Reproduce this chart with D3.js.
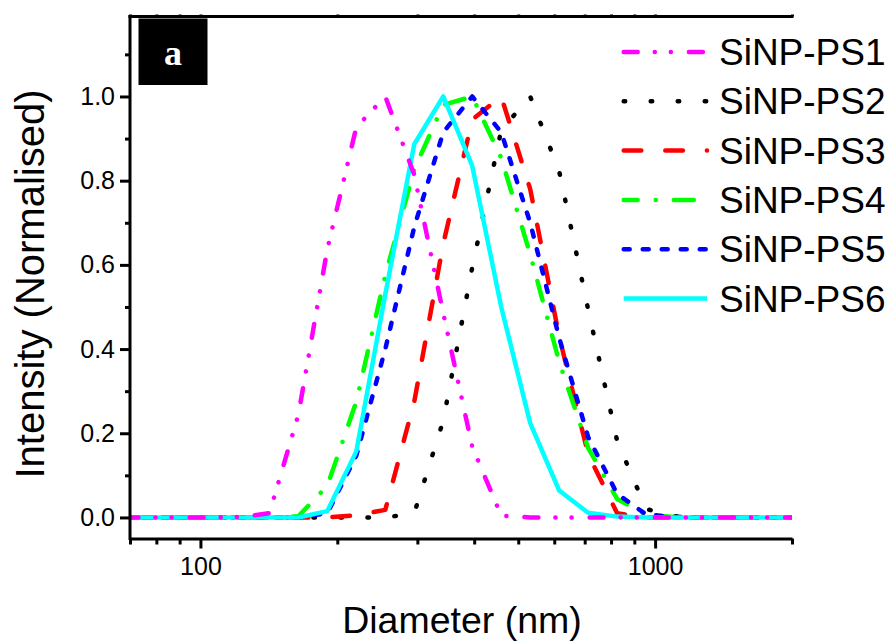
<!DOCTYPE html>
<html>
<head>
<meta charset="utf-8">
<script src="https://cdn.jsdelivr.net/npm/d3@7"></script>
<style>
  html, body { margin: 0; padding: 0; background: #fff; }
  svg { display: block; }
</style>
</head>
<body>
<div id="chart"></div>
<script>
// ---------------- data ----------------
const diameters = [68.06, 78.82, 91.28, 105.7, 122.4, 141.8, 164.2, 190.1, 220.2, 255.0, 295.3, 342.0, 396.1, 458.7, 531.2, 615.1, 712.4, 825.0, 955.4, 1106, 1281, 1484, 1718, 1990, 2305];
const ps1 = [0, 0, 0, 0, 0.001, 0.01, 0.244, 0.637, 0.927, 1.0, 0.814, 0.485, 0.168, 0.004, 0, 0, 0, 0, 0, 0, 0, 0, 0, 0, 0];
const ps2 = [0, 0, 0, 0, 0, 0, 0, 0, 0, 0, 0.01, 0.23, 0.594, 0.92, 1.0, 0.823, 0.494, 0.182, 0.02, 0.003, 0, 0, 0, 0, 0];
const ps3 = [0, 0, 0, 0, 0, 0, 0, 0, 0.005, 0.018, 0.275, 0.65, 0.945, 1.0, 0.78, 0.43, 0.15, 0.01, 0, 0, 0, 0, 0, 0, 0];
const ps4 = [0, 0, 0, 0, 0, 0, 0.003, 0.075, 0.275, 0.575, 0.827, 0.98, 1.0, 0.854, 0.625, 0.37, 0.165, 0.044, 0.006, 0.001, 0, 0, 0, 0, 0];
const ps5 = [0, 0, 0, 0, 0, 0, 0, 0.01, 0.147, 0.40, 0.69, 0.915, 1.0, 0.915, 0.70, 0.427, 0.191, 0.056, 0.007, 0.001, 0, 0, 0, 0, 0];
const ps6 = [0, 0, 0, 0, 0, 0, 0, 0.015, 0.157, 0.53, 0.887, 1.0, 0.835, 0.50, 0.224, 0.064, 0.011, 0.002, 0, 0, 0, 0, 0, 0, 0];
const seriesNames = ["SiNP-PS1", "SiNP-PS2", "SiNP-PS3", "SiNP-PS4", "SiNP-PS5", "SiNP-PS6"];
const xMajorTicks = [100, 1000];
const xMajorLabels = ["100", "1000"];
const xMinorTicks = [70, 80, 90, 200, 300, 400, 500, 600, 700, 800, 900, 2000];
const yMajorTicks = [0, 0.2, 0.4, 0.6, 0.8, 1.0];
const yMajorLabels = ["0.0", "0.2", "0.4", "0.6", "0.8", "1.0"];
const yMinorTicks = [0.1, 0.3, 0.5, 0.7, 0.9, 1.1];
const xTitle = "Diameter (nm)";
const yTitle = "Intensity (Normalised)";
const panelLabel = "a";

// ---------------- styles ----------------
const seriesValues = [ps1, ps2, ps3, ps4, ps5, ps6];
const colors = ["#ff00ff", "#000000", "#ff0000", "#00ff00", "#0000ff", "#00ffff"];
const dashes = ["14,17,0.1,16,0.1,18", "1.5,25.5", "17.6,24", "20,18,0.1,18", "6,13", null];
const legendOffsets = [0, 0, 0, 6, 0, 0];
const drawOrder = [1, 2, 3, 4, 5, 0];

const W = 894, H = 641;
const L = 130, R = 792, T = 16.5, B = 538.5;
const FONT = "'Liberation Sans', Arial, Helvetica, sans-serif";

const svg = d3.select("#chart").append("svg")
  .attr("width", W).attr("height", H)
  .attr("viewBox", `0 0 ${W} ${H}`);

const x = d3.scaleLog().domain([70, 2000]).range([L, R]);
const y = d3.scaleLinear().domain([-0.05, 1.19]).range([B, T]);

svg.append("defs").append("clipPath").attr("id", "plotclip")
  .append("rect").attr("x", L).attr("y", T).attr("width", R - L).attr("height", B - T);

// series lines
const line = d3.line().x(d => x(d[0])).y(d => y(d[1]));
const gLines = svg.append("g").attr("clip-path", "url(#plotclip)");
drawOrder.forEach(i => {
  const pts = diameters.map((dd, k) => [dd, seriesValues[i][k]]);
  const p = gLines.append("path")
    .datum(pts)
    .attr("d", line)
    .attr("fill", "none")
    .attr("stroke", colors[i])
    .attr("stroke-width", 4.5)
    .attr("stroke-linecap", dashes[i] ? "round" : "butt")
    .attr("stroke-linejoin", "round");
  if (dashes[i]) p.attr("stroke-dasharray", dashes[i]);
});

// axes
function styleAxis(g) {
  g.selectAll("path.domain").attr("stroke", "#000").attr("stroke-width", 3);
  g.selectAll(".tick line").attr("stroke", "#000").attr("stroke-width", 3);
  g.selectAll(".tick text").attr("font-family", FONT).attr("font-size", 25).attr("fill", "#000");
}
// bottom
const gxMinor = svg.append("g").attr("transform", `translate(0,${B})`)
  .call(d3.axisBottom(x).tickValues(xMinorTicks).tickSize(6).tickSizeOuter(0).tickFormat(""));
styleAxis(gxMinor);
const gxMajor = svg.append("g").attr("transform", `translate(0,${B})`)
  .call(d3.axisBottom(x).tickValues(xMajorTicks).tickSize(10).tickPadding(9)
    .tickSizeOuter(0).tickFormat((d, i) => xMajorLabels[i]));
styleAxis(gxMajor);
gxMajor.select("path.domain").remove();
// top (frame)
const gxTop = svg.append("g").attr("transform", `translate(0,${T})`)
  .call(d3.axisTop(x).tickValues(xMinorTicks.concat(xMajorTicks)).tickSize(2).tickSizeOuter(0).tickFormat(""));
styleAxis(gxTop);
gxTop.select("path.domain").attr("d", `M${L - 1.5},0H${R + 1.5}`);
// left
const gyMinor = svg.append("g").attr("transform", `translate(${L},0)`)
  .call(d3.axisLeft(y).tickValues(yMinorTicks).tickSize(5).tickSizeOuter(0).tickFormat(""));
styleAxis(gyMinor);
gyMinor.select("path.domain").attr("d", `M0,${T - 1.5}V${B + 1.5}`);
const gyMajor = svg.append("g").attr("transform", `translate(${L},0)`)
  .call(d3.axisLeft(y).tickValues(yMajorTicks).tickSize(10).tickPadding(5)
    .tickSizeOuter(0).tickFormat((d, i) => yMajorLabels[i]));
styleAxis(gyMajor);
gyMajor.select("path.domain").remove();

// axis titles
svg.append("text")
  .attr("x", 462).attr("y", 633)
  .attr("text-anchor", "middle")
  .attr("font-family", FONT).attr("font-size", 37.5)
  .text(xTitle);
svg.append("text")
  .attr("transform", `translate(44,284) rotate(-90)`)
  .attr("text-anchor", "middle")
  .attr("font-family", FONT).attr("font-size", 40)
  .text(yTitle);

// panel label
svg.append("rect").attr("x", 138.5).attr("y", 18.5).attr("width", 69).attr("height", 66.5).attr("fill", "#000");
svg.append("text")
  .attr("x", 173).attr("y", 65)
  .attr("text-anchor", "middle")
  .attr("font-family", "'Liberation Serif', 'Times New Roman', serif")
  .attr("font-weight", "bold")
  .attr("font-size", 36)
  .attr("fill", "#fff")
  .text(panelLabel);

// legend
const legend = svg.append("g");
seriesNames.forEach((name, i) => {
  const cy = 52 + i * 49.3;
  const ln = legend.append("line")
    .attr("x1", 623.7).attr("x2", 707)
    .attr("y1", cy).attr("y2", cy)
    .attr("stroke", colors[i]).attr("stroke-width", 4.5)
    .attr("stroke-linecap", dashes[i] ? "round" : "butt");
  if (dashes[i]) ln.attr("stroke-dasharray", dashes[i]).attr("stroke-dashoffset", legendOffsets[i]);
  legend.append("text")
    .attr("x", 719).attr("y", cy + 13)
    .attr("font-family", FONT).attr("font-size", 37)
    .attr("fill", "#000")
    .text(name);
});
</script>
</body>
</html>
